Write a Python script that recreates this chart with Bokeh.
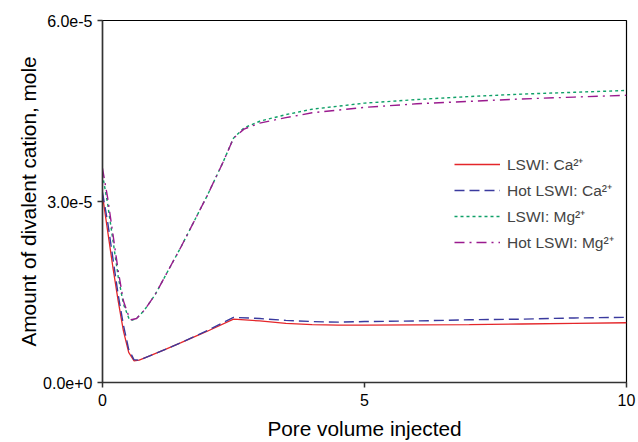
from bokeh.plotting import figure
from bokeh.models import FixedTicker, Legend, LegendItem, Range1d
from bokeh.embed import file_html
from bokeh.resources import INLINE

# Data (y in units of 1e-5 mole)
x_ca = [0, 0.1, 0.2, 0.3, 0.4, 0.5, 0.6, 0.7, 0.9, 1.2, 1.5, 2.0, 2.5, 3.0, 3.5, 4.0, 4.5, 5, 6, 7, 8, 9, 10]
ca_lswi = [3.1, 2.5, 1.9, 1.35, 0.85, 0.5, 0.36, 0.37, 0.44, 0.55, 0.66, 0.85, 1.05, 1.02, 0.98, 0.96, 0.95, 0.95, 0.955, 0.96, 0.97, 0.98, 0.99]
ca_hot = [3.15, 2.65, 2.05, 1.45, 0.95, 0.55, 0.38, 0.37, 0.44, 0.55, 0.66, 0.86, 1.08, 1.06, 1.03, 1.01, 1.00, 1.01, 1.02, 1.04, 1.05, 1.07, 1.08]

x_mg = [0, 0.1, 0.2, 0.3, 0.4, 0.5, 0.55, 0.65, 0.8, 1.0, 1.5, 2.0, 2.3, 2.5, 2.7, 3.0, 3.5, 4.0, 5, 6, 7, 8, 9, 10]
mg_lswi = [3.45, 2.95, 2.35, 1.75, 1.3, 1.07, 1.03, 1.06, 1.2, 1.45, 2.25, 3.1, 3.65, 4.05, 4.22, 4.33, 4.44, 4.53, 4.63, 4.69, 4.74, 4.78, 4.81, 4.84]
mg_hot = [3.55, 3.05, 2.45, 1.85, 1.35, 1.1, 1.04, 1.06, 1.2, 1.45, 2.25, 3.1, 3.65, 4.05, 4.2, 4.3, 4.39, 4.47, 4.56, 4.62, 4.66, 4.70, 4.73, 4.76]

y_ticks = [0, 3e-5, 6e-5]
y_tick_labels = ["0.0e+0", "3.0e-5", "6.0e-5"]
x_ticks = [0, 5, 10]

series_names = ["LSWI: Ca\u00b2\u207a", "Hot LSWI: Ca\u00b2\u207a", "LSWI: Mg\u00b2\u207a", "Hot LSWI: Mg\u00b2\u207a"]

scale = 1e-5
FONT = "Liberation Sans"

p = figure(width=638, height=442, output_backend="svg", toolbar_location=None,
           x_range=Range1d(0, 10), y_range=Range1d(0, 6e-5),
           min_border_left=102, min_border_right=12, min_border_top=20, min_border_bottom=58)
p.grid.visible = False
p.outline_line_color = "black"
p.outline_line_width = 1.2
p.background_fill_color = "white"
p.border_fill_color = "white"

r1 = p.line(x_ca, [v * scale for v in ca_lswi], line_color="#e4262a", line_width=1.3)
r2 = p.line(x_ca, [v * scale for v in ca_hot], line_color="#3a3a9e", line_width=1.4, line_dash="10 5")
r3 = p.line(x_mg, [v * scale for v in mg_lswi], line_color="#10a068", line_width=1.4, line_dash="3 3")
r4 = p.line(x_mg, [v * scale for v in mg_hot], line_color="#9a1a8e", line_width=1.4, line_dash="10 5 2 5")

for ax in (p.xaxis[0], p.yaxis[0]):
    ax.axis_line_color = "#333333"
    ax.axis_line_width = 1.5
    ax.major_tick_line_color = "#333333"
    ax.major_tick_line_width = 1.5
    ax.major_tick_out = 5
    ax.major_tick_in = 0
    ax.minor_tick_line_color = None
    ax.major_label_text_font = FONT
    ax.major_label_text_font_size = "16px"
    ax.major_label_text_color = "black"
    ax.axis_label_text_font = FONT
    ax.axis_label_text_font_size = "20.8px"
    ax.axis_label_text_font_style = "normal"
    ax.axis_label_text_color = "black"

p.xaxis.ticker = FixedTicker(ticks=x_ticks)
p.yaxis.ticker = FixedTicker(ticks=y_ticks)
p.yaxis.major_label_overrides = {t: l for t, l in zip(y_ticks, y_tick_labels)}
p.xaxis.axis_label = "Pore volume injected"
p.yaxis.axis_label = "Amount of divalent cation, mole"
p.xaxis.major_label_standoff = 6
p.yaxis.major_label_standoff = 5
p.xaxis.axis_label_standoff = 8
p.yaxis.axis_label_standoff = 0

legend = Legend(items=[LegendItem(label=n, renderers=[r]) for n, r in zip(series_names, [r1, r2, r3, r4])],
                location=(352, 129))
legend.background_fill_alpha = 0
legend.border_line_color = None
legend.label_text_font = FONT
legend.label_text_font_size = "15.5px"
legend.glyph_width = 46
legend.glyph_height = 20
legend.spacing = 4
legend.padding = 0
legend.margin = 0
legend.label_standoff = 7
p.add_layout(legend, "center")

open("out.html", "w").write(file_html(p, INLINE))
